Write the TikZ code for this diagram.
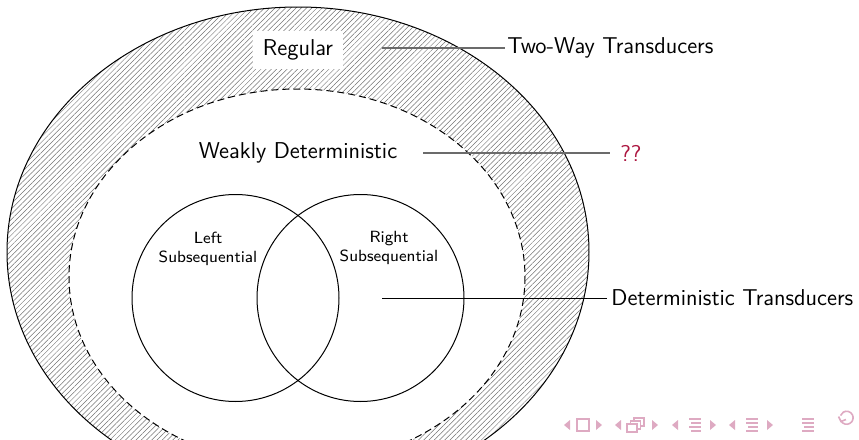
\documentclass[tikz,border=0pt]{standalone}
\usetikzlibrary{patterns.meta}
\definecolor{alertred}{RGB}{172,22,64}
\definecolor{navpink}{RGB}{222,170,194}

\begin{document}
\begin{tikzpicture}[x=0.5pt,y=-0.5pt,
  font=\sffamily\fontsize{11.45}{13.5}\selectfont,
  rim/.style={line width=0.5pt},
  smalllabel/.style={align=center, font=\sffamily\fontsize{8.1}{9.8}\selectfont},
  sidelabel/.style={anchor=west, inner ysep=0pt},
  pointer/.style={line width=0.8pt, black!58},
  mainpointer/.style={line width=0.5pt, black},
  navtri/.style={fill=navpink},
  navline/.style={navpink, line width=1.1pt}]
\useasboundingbox (0,0) rectangle (859,440);
\clip (0,0) rectangle (859,440);

% two-way transducers: hatched outer region
\draw[rim, pattern={Lines[angle=45,distance=1.85pt,line width=0.25pt]}, pattern color=black!55]
  (298,252) ellipse [x radius=291, y radius=245];
% weakly deterministic: white inner region with dashed rim
\draw[rim, dash pattern=on 3.5pt off 2pt, fill=white]
  (297,277) ellipse [x radius=228, y radius=188];
% left and right subsequential circles
\draw[rim] (235.5,298) circle [radius=103.5];
\draw[rim] (360.5,298) circle [radius=103.5];

% region names
\node[fill=white, inner xsep=5pt, inner ysep=4.5pt] (regular) at (298,50) {Regular};
\node (weak) at (298,153) {Weakly Deterministic};
\node[smalllabel] (leftsub) at (208,249) {Left\\Subsequential};
\node[smalllabel] (rightsub) at (389,248) {Right\\Subsequential};

% side labels
\node[sidelabel, inner xsep=1pt] (twoway) at (505,48) {Two-Way Transducers};
\node[sidelabel, inner xsep=5pt, text=alertred] (qq) at (610,153) {??};
\node[sidelabel, inner xsep=2pt] (det) at (607,298) {Deterministic Transducers};

% pointers
\coordinate (twstart) at (382,48);
\coordinate (wdstart) at (423,153);
\coordinate (dtstart) at (382,298);
\draw[pointer] (twstart) -- (twoway.west);
\draw[pointer] (wdstart) -- (qq.west);
\draw[mainpointer] (dtstart) -- (det.west);

% navigation symbols
\foreach \lx/\rx in {567/599, 618/655, 675/713, 732/770}{
  \fill[navtri] (\lx+3,420) -- (\lx-3,425) -- (\lx+3,430) -- cycle;
  \fill[navtri] (\rx-3,420) -- (\rx+3,425) -- (\rx-3,430) -- cycle;
}
% slide icon
\draw[navline, line width=0.8pt] (577,419) rectangle (589,431);
% frame icon
\draw[navline, line width=0.7pt, fill=white] (634,418) rectangle (644,426);
\draw[navline, line width=0.7pt, fill=white] (630.5,421) rectangle (640.5,429);
\draw[navline, line width=0.7pt, fill=white] (627,424) rectangle (637,432);
% subsection icon
\draw[navline] (689,419) -- (701,419);
\draw[navline] (691,423) -- (701,423);
\draw[navline] (689,427) -- (701,427);
\draw[navline] (691,431) -- (701,431);
% section icon
\draw[navline] (746,419) -- (758,419);
\draw[navline] (746,423) -- (758,423);
\draw[navline] (748,427) -- (758,427);
\draw[navline] (746,431) -- (758,431);
% document icon
\draw[navline] (802,419) -- (814,419);
\draw[navline] (802,423) -- (814,423);
\draw[navline] (804,427) -- (814,427);
\draw[navline] (802,431) -- (814,431);
% back icon
\draw[navline, line width=0.8pt] (841,421) arc [start angle=150, end angle=-160, radius=6.5];
\draw[navline, line width=0.8pt] (838.5,416.5) -- (841,421.5) -- (846,419.5);
\end{tikzpicture}
\end{document}
